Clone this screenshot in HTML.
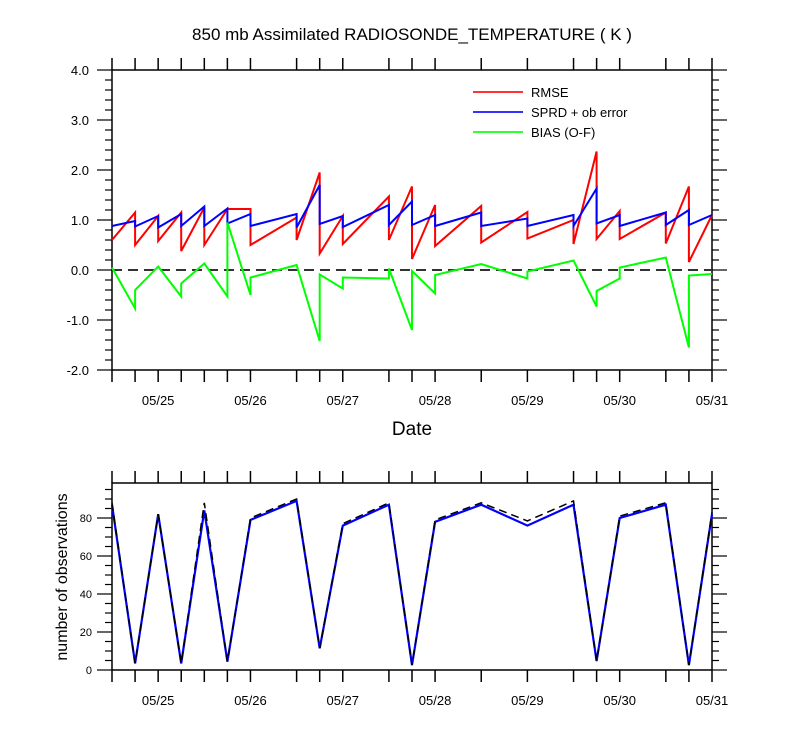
<!DOCTYPE html>
<html><head><meta charset="utf-8"><style>
body{margin:0;background:#fff;}
svg{display:block;font-family:"Liberation Sans",sans-serif;}
</style></head><body>
<svg id="c" width="800" height="750" xmlns="http://www.w3.org/2000/svg">
<text x="412" y="40" font-size="17" text-anchor="middle">850 mb Assimilated RADIOSONDE_TEMPERATURE ( K )</text>
<text x="412" y="435" font-size="19" text-anchor="middle">Date</text>
<text transform="translate(67,577) rotate(-90)" font-size="16" text-anchor="middle">number of observations</text>
<g>
<line x1="473" y1="92" x2="523" y2="92" stroke="#f33" stroke-width="2"/><text x="531" y="97" font-size="13">RMSE</text>
<line x1="473" y1="112" x2="523" y2="112" stroke="#33f" stroke-width="2"/><text x="531" y="117" font-size="13">SPRD + ob error</text>
<line x1="473" y1="132" x2="523" y2="132" stroke="#3f3" stroke-width="2"/><text x="531" y="137" font-size="13">BIAS (O-F)</text>
</g>
</svg>
<script>
const tickSteps=[0,1,2,3,4,5,6,8,9,10,12,13,14,16,18,20,21,22,24,25,26];
const dateLabels=["05/25","05/26","05/27","05/28","05/29","05/30","05/31"];
const dateSteps=[2,6,10,14,18,22,26];
const rmseSteps=[0,1,1,2,2,3,3,4,4,5,6,6,8,8,9,9,10,10,12,12,13,13,14,14,16,16,18,18,20,20,21,21,22,22,24,24,25,25,26];
const rmseVals=[0.6,1.15,0.5,1.08,0.58,1.15,0.38,1.25,0.5,1.22,1.22,0.5,1.05,0.6,1.95,0.33,1.08,0.52,1.47,0.6,1.67,0.22,1.3,0.48,1.28,0.55,1.16,0.63,1.0,0.52,2.37,0.62,1.18,0.62,1.15,0.53,1.67,0.16,1.1];
const sprdSteps=[0,1,1,2,2,3,3,4,4,5,5,6,6,8,8,9,9,10,10,12,12,13,13,14,14,16,16,18,18,20,20,21,21,22,22,24,24,25,25,26];
const sprdVals=[0.88,0.98,0.87,1.08,0.85,1.12,0.88,1.27,0.88,1.23,0.93,1.12,0.88,1.12,0.85,1.7,0.92,1.08,0.86,1.3,0.9,1.37,0.9,1.1,0.88,1.15,0.88,1.03,0.88,1.1,0.88,1.63,0.93,1.1,0.88,1.15,0.9,1.2,0.9,1.1];
const biasSteps=[0,1,1,2,3,3,4,5,5,6,6,8,9,9,10,10,12,12,13,13,14,14,16,18,18,20,21,21,22,22,24,25,25,26];
const biasVals=[0.05,-0.77,-0.4,0.07,-0.53,-0.27,0.13,-0.53,0.95,-0.5,-0.15,0.1,-1.42,-0.09,-0.37,-0.15,-0.17,0.03,-1.2,-0.02,-0.47,-0.1,0.12,-0.17,-0.03,0.19,-0.73,-0.42,-0.17,0.05,0.25,-1.55,-0.11,-0.08];
const obsSteps=[0,1,2,3,4,5,6,8,9,10,12,13,14,16,18,20,21,22,24,25,26];
const obsUsed=[87,3.5,82,3.5,84,4.4,79,89,11.4,76,87,2.6,78,87,76,87,4.7,80,87,2.6,82];
const obsTotal=[88,3.5,82,3.5,88,4.4,80,90,11.4,77,88,2.6,79,88,78.5,89,4.7,81,88,2.6,83];
const yTicksTop=[4,3,2,1,0,-1,-2];
const yTicksBot=[0,20,40,60,80];

const svg=document.getElementById('c');const NS="http://www.w3.org/2000/svg";
function mk(t,a,p){const e=document.createElementNS(NS,t);for(const k in a)e.setAttribute(k,a[k]);(p||svg).appendChild(e);return e;}
const X=s=>112+s*600/26;
const Yt=v=>270-50*v;
const Yb=v=>670-1.9*v;
const L=112,R=712;
function frame(top,bot,name){
  const f=mk('rect',{x:L,y:top,width:R-L,height:bot-top,fill:'none',stroke:'#000','stroke-width':1.5});
  
  
  tickSteps.forEach(s=>{
    const t=mk('line',{x1:X(s),y1:top,x2:X(s),y2:top-12,stroke:'#000','stroke-width':1.5});
    
    
    const b=mk('line',{x1:X(s),y1:bot,x2:X(s),y2:bot+12,stroke:'#000','stroke-width':1.5});
    
    
  });
  dateLabels.forEach((d,i)=>{
    const t=mk('text',{x:X(dateSteps[i]),y:bot+35,'font-size':13,'text-anchor':'middle'});
    t.textContent=d;
    
    
  });
}
function poly(steps,vals,Y,attrs,name){
  const pts=steps.map((s,i)=>X(s).toFixed(1)+','+Y(vals[i]).toFixed(1)).join(' ');
  const p=mk('polyline',Object.assign({points:pts,fill:'none','stroke-linejoin':'miter'},attrs));
  
  
}
// top chart
frame(70,370,'top-plot');
for(let v=-2;v<=4.001;v+=0.2){
  const maj=Math.abs(v-Math.round(v))<0.01;const len=maj?15:7;const y=Yt(v);
  const a=mk('line',{x1:L-len,y1:y,x2:L,y2:y,stroke:'#000','stroke-width':1.2});
  
  
  const b=mk('line',{x1:R,y1:y,x2:R+len,y2:y,stroke:'#000','stroke-width':1.2});
  
  
}
yTicksTop.forEach(v=>{
  const t=mk('text',{x:89,y:Yt(v)+5,'font-size':13,'text-anchor':'end'});
  t.textContent=v.toFixed(1);
  
  
});
const z=mk('line',{x1:L,y1:Yt(0),x2:R,y2:Yt(0),stroke:'#333','stroke-width':2,'stroke-dasharray':'10,6'});


poly(rmseSteps,rmseVals,Yt,{stroke:'#f00','stroke-width':2},'rmse-line');
poly(sprdSteps,sprdVals,Yt,{stroke:'#00f','stroke-width':2},'sprd-line');
poly(biasSteps,biasVals,Yt,{stroke:'#0f0','stroke-width':2},'bias-line');
// bottom chart
frame(483,670,'bottom-plot');
for(let v=0;v<=95;v+=5){
  const maj=v%20===0;const len=maj?15:7;const y=Yb(v);
  const a=mk('line',{x1:L-len,y1:y,x2:L,y2:y,stroke:'#000','stroke-width':1.2});
  
  
  const b=mk('line',{x1:R,y1:y,x2:R+len,y2:y,stroke:'#000','stroke-width':1.2});
  
  
}
yTicksBot.forEach(v=>{
  const t=mk('text',{x:92,y:Yb(v)+4,'font-size':11,'text-anchor':'end'});
  t.textContent=v;
  
  
});
poly(obsSteps,obsUsed,Yb,{stroke:'#00f','stroke-width':2.2},'obs-used-line');
poly(obsSteps,obsTotal,Yb,{stroke:'#000','stroke-width':1.5,'stroke-dasharray':'8,5'},'obs-total-line');
</script>
</body></html>
